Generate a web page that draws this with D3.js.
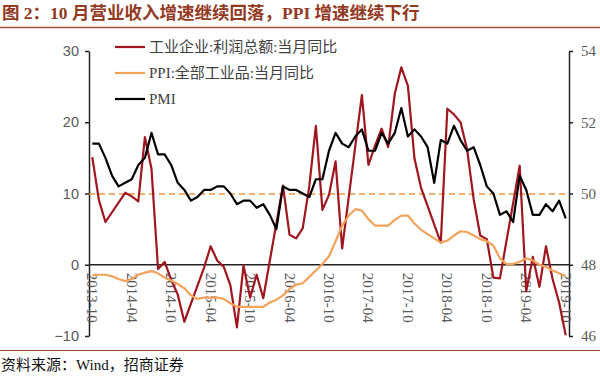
<!DOCTYPE html>
<html><head><meta charset="utf-8">
<script src="https://cdn.jsdelivr.net/npm/d3@7"></script>
<style>
html,body{margin:0;padding:0;background:#fff;}
svg{display:block;}
</style></head>
<body>
<svg id="chart" width="600" height="377"></svg>
<script>
const months = [
"2013-10","2013-11","2013-12",
"2014-01","2014-02","2014-03","2014-04","2014-05","2014-06","2014-07","2014-08","2014-09","2014-10","2014-11","2014-12",
"2015-01","2015-02","2015-03","2015-04","2015-05","2015-06","2015-07","2015-08","2015-09","2015-10","2015-11","2015-12",
"2016-01","2016-02","2016-03","2016-04","2016-05","2016-06","2016-07","2016-08","2016-09","2016-10","2016-11","2016-12",
"2017-01","2017-02","2017-03","2017-04","2017-05","2017-06","2017-07","2017-08","2017-09","2017-10","2017-11","2017-12",
"2018-01","2018-02","2018-03","2018-04","2018-05","2018-06","2018-07","2018-08","2018-09","2018-10","2018-11","2018-12",
"2019-01","2019-02","2019-03","2019-04","2019-05","2019-06","2019-07","2019-08","2019-09","2019-10"];

// 工业企业:利润总额:当月同比 (%), Jan/Feb not published monthly
const profit = [
15.1, 9.1, 6.0,
null, null, 10.1, 9.6, 8.9, 17.9, 13.5, -0.6, 0.4, -2.1, -4.2, -8.0,
null, null, -0.4, 2.6, 0.6, -0.3, -2.9, -8.8, -0.1, -4.6, -1.4, -4.7,
null, null, 11.1, 4.2, 3.7, 5.1, 11.0, 19.5, 7.7, 9.8, 14.5, 2.3,
null, null, 23.8, 14.0, 16.7, 19.1, 16.5, 24.0, 27.7, 25.1, 14.9, 10.8,
null, null, 3.1, 21.9, 21.1, 20.0, 16.2, 9.2, 4.1, 3.6, -1.8, -1.9,
null, null, 13.9, -3.7, 1.1, -3.1, 2.6, -2.0, -5.3, -9.9];

// PPI:全部工业品:当月同比 (%)
const ppi = [
-1.5, -1.4, -1.4,
-1.6, -2.0, -2.3, -2.0, -1.4, -1.1, -0.9, -1.2, -1.8, -2.2, -2.7, -3.3,
-4.3, -4.8, -4.6, -4.6, -4.6, -4.8, -5.4, -5.9, -5.9, -5.9, -5.9, -5.9,
-5.3, -4.9, -4.3, -3.4, -2.8, -2.6, -1.7, -0.8, 0.1, 1.2, 3.3, 5.5,
6.9, 7.8, 7.6, 6.4, 5.5, 5.5, 5.5, 6.3, 6.9, 6.9, 5.8, 4.9,
4.3, 3.7, 3.1, 3.4, 4.1, 4.7, 4.6, 4.1, 3.6, 3.3, 2.7, 0.9,
0.1, 0.1, 0.4, 0.9, 0.6, 0.0, -0.3, -0.8, -1.2, -1.6];

// PMI (right axis)
const pmi = [
51.4, 51.4, 51.0,
50.5, 50.2, 50.3, 50.4, 50.8, 51.0, 51.7, 51.1, 51.1, 50.8, 50.3, 50.1,
49.8, 49.9, 50.1, 50.1, 50.2, 50.2, 50.0, 49.7, 49.8, 49.8, 49.6, 49.7,
49.4, 49.0, 50.2, 50.1, 50.1, 50.0, 49.9, 50.4, 50.4, 51.2, 51.7, 51.4,
51.3, 51.6, 51.8, 51.2, 51.2, 51.7, 51.4, 51.7, 52.4, 51.6, 51.8, 51.6,
51.3, 50.3, 51.5, 51.4, 51.9, 51.5, 51.2, 51.3, 50.8, 50.2, 50.0, 49.4,
49.5, 49.2, 50.5, 50.1, 49.4, 49.4, 49.7, 49.5, 49.8, 49.3];

const xTickLabels = ["2013-10","2014-04","2014-10","2015-04","2015-10","2016-04","2016-10","2017-04","2017-10","2018-04","2018-10","2019-04","2019-10"];
const leftTicks = [-10, 0, 10, 20, 30];
const rightTicks = [46, 48, 50, 52, 54];
const refLineValue = 10;

const seriesNames = ["工业企业:利润总额:当月同比", "PPI:全部工业品:当月同比", "PMI"];
const colors = ["#A0161E", "#F3A25B", "#000000"];

const title = "图 2：10 月营业收入增速继续回落，PPI 增速继续下行";
const source = "资料来源：Wind，招商证券";

const svg = d3.select("#chart");
const L = 89, R = 569, T = 51, B = 336;

const x = d3.scalePoint().domain(months).range([L, R]).padding(0.5);
const yL = d3.scaleLinear().domain([-10, 30]).range([B, T]);
const yR = d3.scaleLinear().domain([46, 54]).range([B, T]);

const serifCJK = "'Liberation Serif','Noto Sans CJK SC',serif";

// Title
svg.append("text").attr("x", 2).attr("y", 19)
  .attr("font-family", serifCJK).attr("font-weight", "bold").attr("font-size", 17.5)
  .attr("fill", "#93391F").text(title);
svg.append("line").attr("x1", 0).attr("x2", 600).attr("y1", 27.5).attr("y2", 27.5)
  .attr("stroke", "#9A5038").attr("stroke-width", 1.3);

// Source
svg.append("line").attr("x1", 0).attr("x2", 600).attr("y1", 350.5).attr("y2", 350.5)
  .attr("stroke", "#9A5038").attr("stroke-width", 1);
svg.append("text").attr("x", 1).attr("y", 370)
  .attr("font-family", serifCJK).attr("font-size", 15).attr("fill", "#111").text(source);

// Left axis
const axL = svg.append("g").attr("transform", `translate(${L},0)`)
  .call(d3.axisLeft(yL).tickValues(leftTicks).tickSize(4).tickSizeOuter(0).tickPadding(6));
axL.select(".domain").attr("stroke", "#222").attr("stroke-width", 1.5);
axL.selectAll(".tick line").attr("stroke", "#222").attr("stroke-width", 1.5);
axL.selectAll("text").attr("font-family", "'Liberation Sans',sans-serif").attr("font-size", 14.5).attr("fill", "#595959");

// Right axis
const axR = svg.append("g").attr("transform", `translate(${R},0)`)
  .call(d3.axisRight(yR).tickValues(rightTicks).tickSize(4).tickSizeOuter(0).tickPadding(8));
axR.select(".domain").attr("stroke", "#222").attr("stroke-width", 1.5);
axR.selectAll(".tick line").attr("stroke", "#222").attr("stroke-width", 1.5);
axR.selectAll("text").attr("font-family", "'Liberation Serif',serif").attr("font-size", 15).attr("fill", "#595959");

// Reference dashed line at 10 / 50
const yRef = Math.round(yL(refLineValue));
svg.append("line").attr("x1", L).attr("x2", R).attr("y1", yRef).attr("y2", yRef)
  .attr("stroke", "#F0983F").attr("stroke-width", 1.4).attr("stroke-dasharray", "6,4");

// Zero line
svg.append("line").attr("x1", L).attr("x2", R).attr("y1", yL(0)).attr("y2", yL(0))
  .attr("stroke", "#222").attr("stroke-width", 1.5);

// X tick labels (rotated)
svg.append("g").selectAll("text").data(xTickLabels).join("text")
  .attr("transform", d => `translate(${x(d)},${yL(0) + 8}) rotate(90)`)
  .attr("dy", "0.33em")
  .attr("font-family", "'Liberation Serif',serif").attr("font-size", 15).attr("fill", "#595959")
  .text(d => d);

// Series
function drawSeries(vals, scale, color) {
  const pts = months.map((m, i) => ({m, v: vals[i]})).filter(d => d.v !== null);
  svg.append("path").datum(pts)
    .attr("fill", "none").attr("stroke", color).attr("stroke-width", 2.2)
    .attr("stroke-linejoin", "round")
    .attr("d", d3.line().x(d => x(d.m)).y(d => scale(d.v)));
}
drawSeries(profit, yL, colors[0]);
drawSeries(ppi, yL, colors[1]);
drawSeries(pmi, yR, colors[2]);

// Legend
const lg = svg.append("g");
seriesNames.forEach((name, i) => {
  const yy = 47 + i * 26;
  lg.append("line").attr("x1", 115).attr("x2", 145).attr("y1", yy).attr("y2", yy)
    .attr("stroke", colors[i]).attr("stroke-width", 2.2);
  lg.append("text").attr("x", 149).attr("y", yy).attr("dy", "0.36em")
    .attr("font-family", serifCJK).attr("font-size", 15).attr("fill", "#404040").text(name);
});
</script>
</body></html>
